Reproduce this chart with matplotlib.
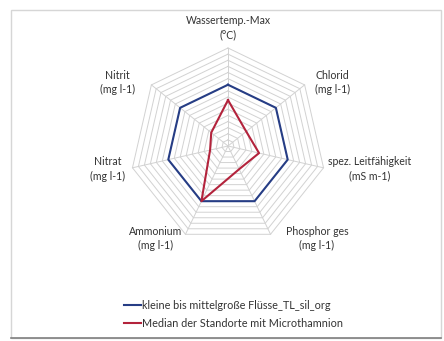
import numpy as np
import matplotlib.pyplot as plt
from matplotlib.patches import Rectangle

# Spider chart: water chemistry, river type reference vs. Microthamnion sites
categories = ["Wassertemp.-Max\n(°C)", "Chlorid\n(mg l-1)", "spez. Leitfähigkeit\n(mS m-1)",
              "Phosphor ges\n(mg l-1)", "Ammonium\n(mg l-1)", "Nitrat\n(mg l-1)", "Nitrit\n(mg l-1)"]
reference = [1.0, 1.0, 1.0, 1.0, 1.0, 1.0, 1.0]
median_sites = [0.75, 0.38, 0.52, 0.42, 1.0, 0.30, 0.35]
series_names = ["kleine bis mittelgroße Flüsse_TL_sil_org",
                "Median der Standorte mit Microthamnion"]
r_max = 1.6
r_step = 0.1

W, H = 444, 341
cx, cy = 228, 146          # chart centre in pixels
px_per_unit = 98 / r_max

plt.rcParams['font.family'] = ['Lato', 'DejaVu Sans']
fig = plt.figure(figsize=(W / 100, H / 100), dpi=100)
ax = fig.add_axes([0, 0, 1, 1])
ax.set_xlim(-cx / px_per_unit, (W - cx) / px_per_unit)
ax.set_ylim(-(H - cy) / px_per_unit, cy / px_per_unit)
ax.axis('off')

n = len(categories)
theta = np.arange(n) * 2 * np.pi / n


def to_xy(values):
    v = np.asarray(values, dtype=float)
    x = v * np.sin(theta)
    y = v * np.cos(theta)
    return np.append(x, x[0]), np.append(y, y[0])


# heptagonal grid rings and spokes
grid_color = '#d2d2d2'
for r in np.arange(r_step, r_max + r_step / 2, r_step):
    gx, gy = to_xy([r] * n)
    ax.plot(gx, gy, color=grid_color, lw=0.7, zorder=1)
for t in theta:
    ax.plot([0, r_max * np.sin(t)], [0, r_max * np.cos(t)], color=grid_color, lw=0.7, zorder=1)

bx, by = to_xy(reference)
ax.plot(bx, by, color='#263d85', lw=1.5, label=series_names[0], zorder=3)
rx, ry = to_xy(median_sites)
ax.plot(rx, ry, color='#b3233c', lw=1.5, label=series_names[1], zorder=4)

# axis labels
label_pos = [(0.0, 1.93), (1.71, 1.04), (2.32, -0.375), (1.45, -1.51),
             (-1.19, -1.51), (-1.96, -0.375), (-1.80, 1.04)]
for lab, (lx, ly) in zip(categories, label_pos):
    ax.text(lx, ly, lab, ha='center', va='center', fontsize=7.6, color='#333333',
            linespacing=1.35)

ax.legend(loc='upper left', bbox_to_anchor=(124 / W, 1 - 300 / H), frameon=False,
          fontsize=7.8, handlelength=1.6, handletextpad=0.05, labelspacing=0.65,
          borderpad=0, borderaxespad=0, labelcolor='#333333')

# chart frame
fig.patches.append(Rectangle((11 / W, 3 / H), 430 / W, 328 / H, transform=fig.transFigure,
                             fill=False, edgecolor='#d6d6d6', lw=1.0))
fig.add_artist(plt.Line2D([11 / W, 441 / W], [3 / H, 3 / H], transform=fig.transFigure,
                          color='#808080', lw=1.2))

fig.savefig('out.png', dpi=100, facecolor='white')
